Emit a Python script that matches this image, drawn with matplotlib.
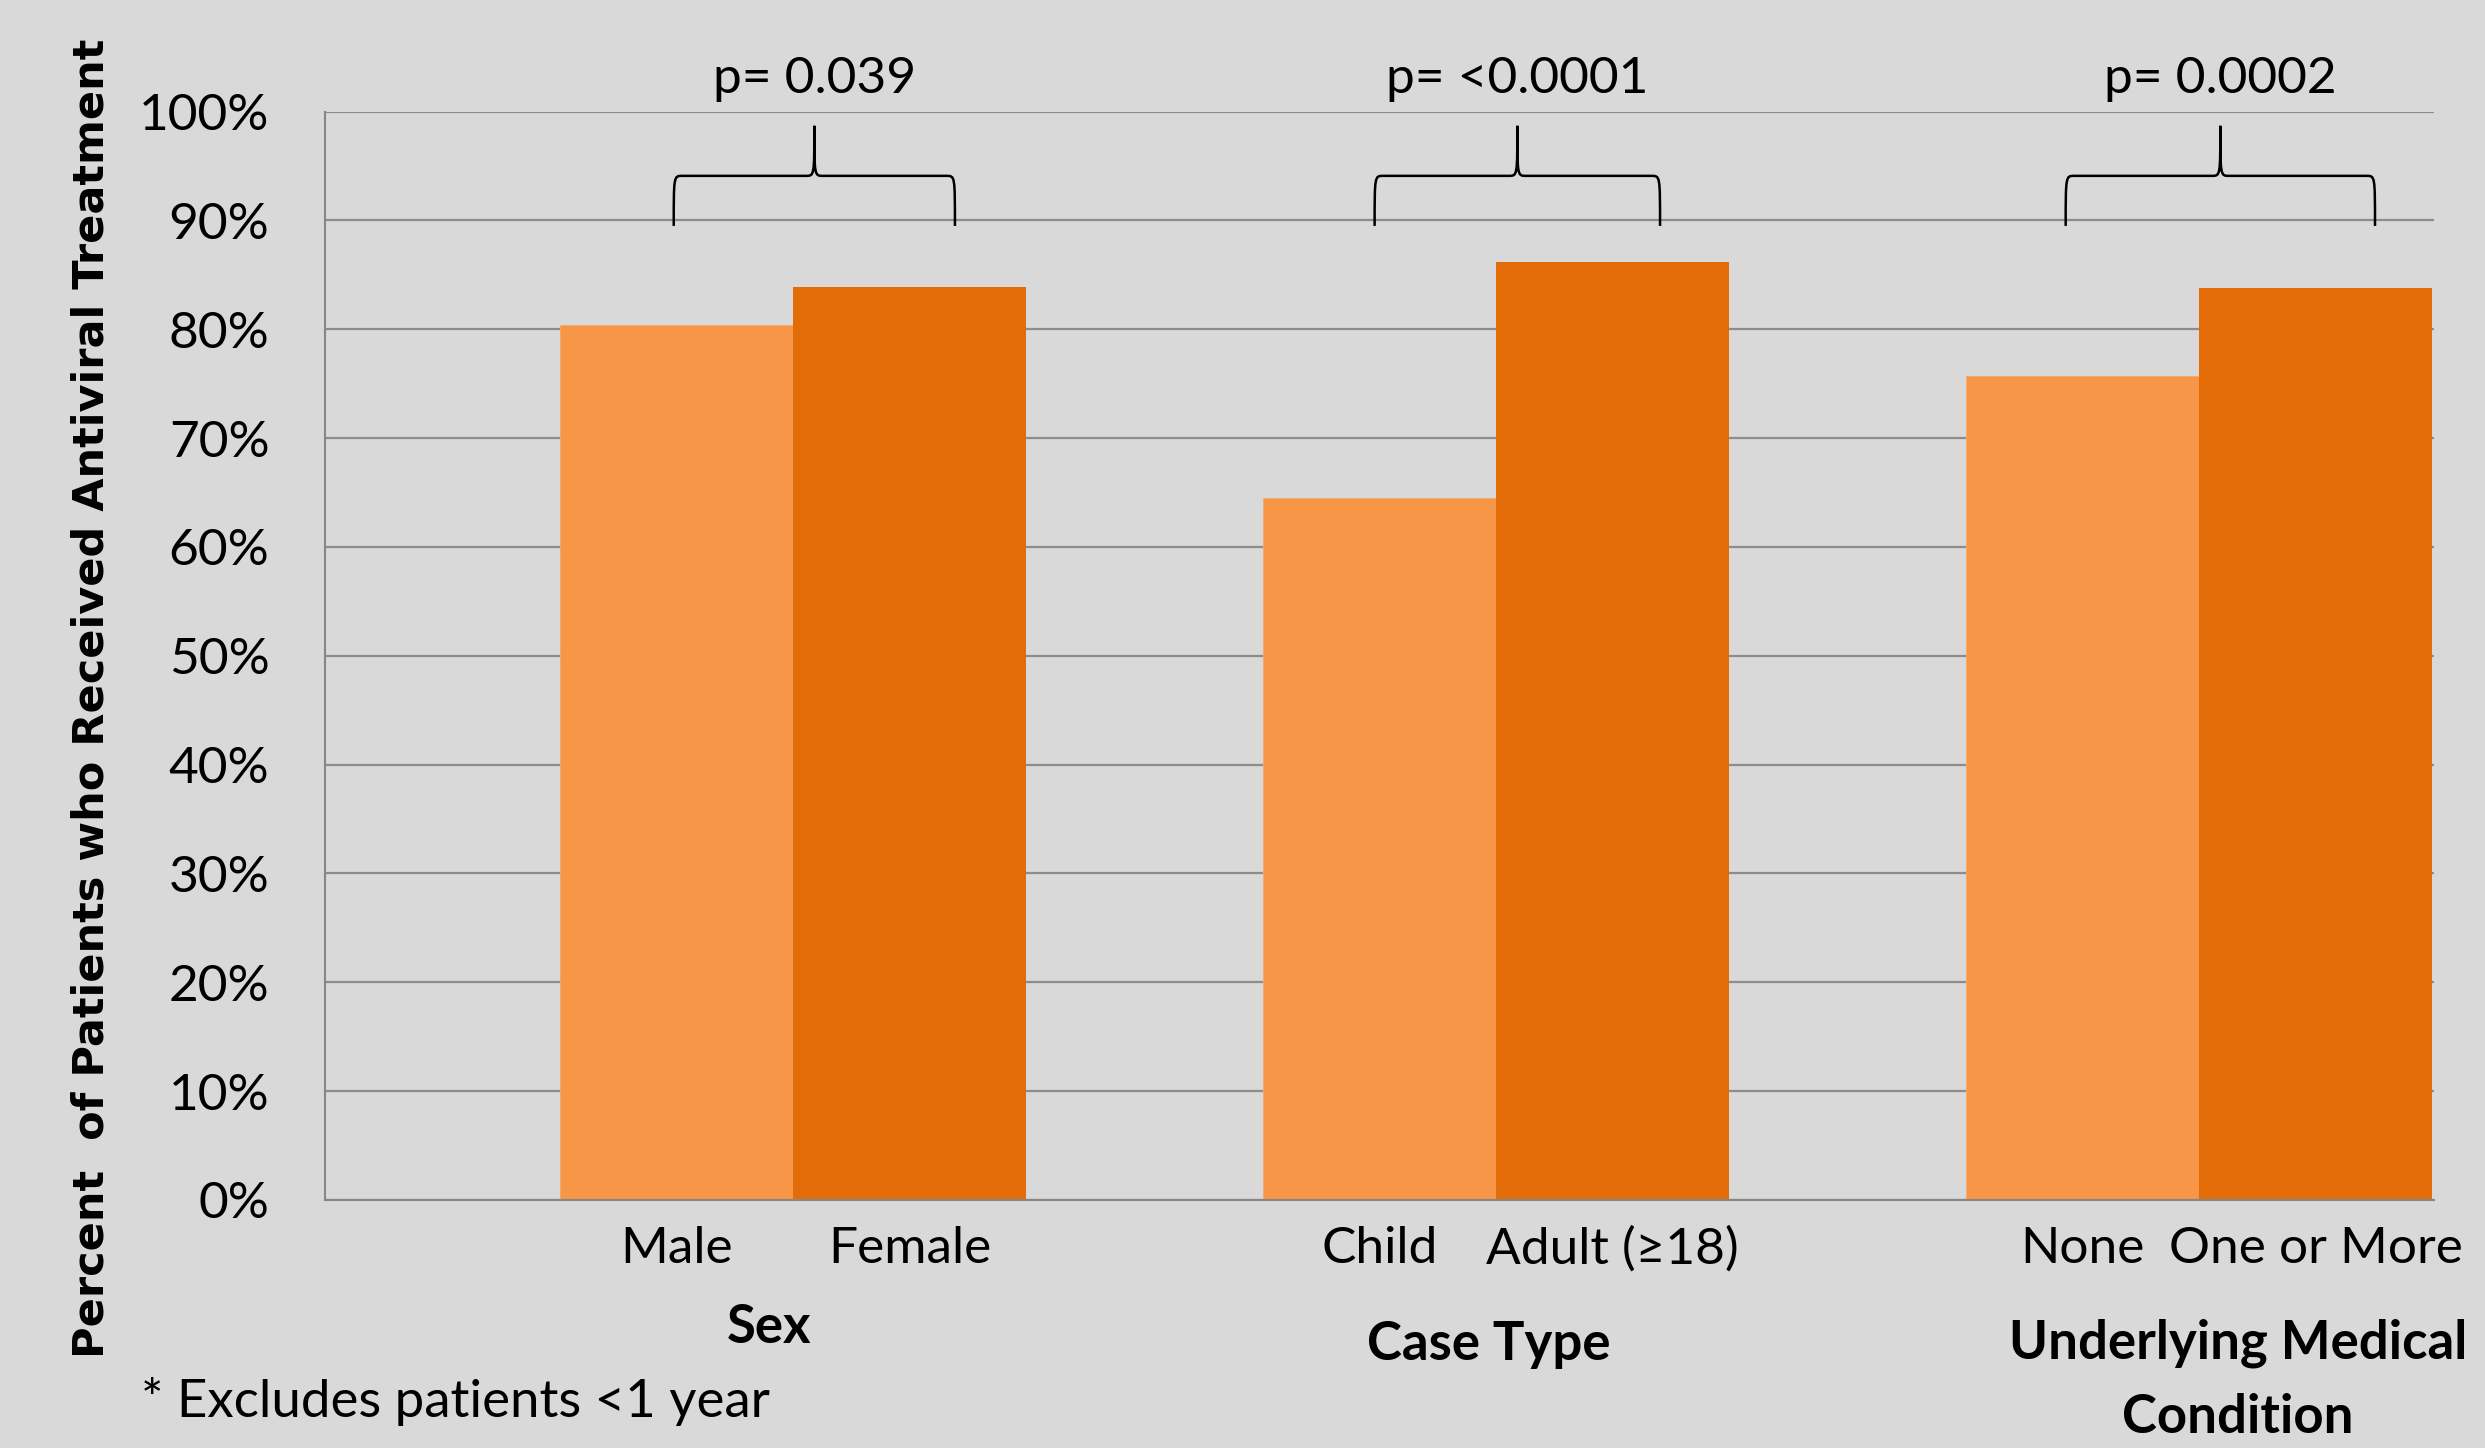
"""
항바이러스 치료를 받은 환자 비율 막대 그래프
"""

import matplotlib.pyplot as plt
from matplotlib.path import Path
from matplotlib.patches import PathPatch
from matplotlib.transforms import blended_transform_factory

# 데이터
groups = ["Sex", "Case Type", "Underlying Medical\nCondition"]
first_labels = ["Male", "Child", "None"]
second_labels = ["Female", "Adult (≥18)", "One or More"]
first_values = [80.4, 64.5, 75.7]
second_values = [83.9, 86.2, 83.8]
p_texts = ["p= 0.039", "p= <0.0001", "p= 0.0002"]
y_ticks = [0, 10, 20, 30, 40, 50, 60, 70, 80, 90, 100]
footnote = "* Excludes patients <1 year"
y_title = "Percent  of Patients who Received Antiviral Treatment"

# 스타일
BG = "#D9D9D9"
LIGHT = "#F79646"
DARK = "#E36C09"
GRID = "#8C8C8C"
FONT = ["Lato", "DejaVu Sans"]
FS = 37
BAR_W = 0.3314


def draw_brace(ax, xc, half, y_bot, y_mid, y_top, dx=0.012):
    """중괄호 모양 (가운데가 위로 솟음)"""
    xl, xr = xc - half, xc + half
    verts = [
        (xl, y_bot), (xl, y_mid), (xl, y_mid), (xl + dx, y_mid),
        (xc - dx, y_mid),
        (xc, y_mid), (xc, y_mid), (xc, y_top),
        (xc, y_mid), (xc, y_mid), (xc + dx, y_mid),
        (xr - dx, y_mid),
        (xr, y_mid), (xr, y_mid), (xr, y_bot),
    ]
    codes = [
        Path.MOVETO, Path.CURVE4, Path.CURVE4, Path.CURVE4,
        Path.LINETO,
        Path.CURVE4, Path.CURVE4, Path.CURVE4,
        Path.CURVE4, Path.CURVE4, Path.CURVE4,
        Path.LINETO,
        Path.CURVE4, Path.CURVE4, Path.CURVE4,
    ]
    patch = PathPatch(Path(verts, codes), facecolor="none", edgecolor="black",
                      linewidth=1.8, clip_on=False, zorder=5)
    ax.add_patch(patch)


fig = plt.figure(figsize=(24.85, 14.48), dpi=100, facecolor=BG)
ax = fig.add_axes([0.1308, 0.1713, 0.8487, 0.7516])
ax.set_facecolor(BG)

idx = list(range(len(groups)))
x1 = [i - BAR_W / 2 for i in idx]
x2 = [i + BAR_W / 2 for i in idx]
ax.bar(x1, first_values, width=BAR_W, color=LIGHT, edgecolor="#F5A86A", linewidth=0.6)
ax.bar(x2, second_values, width=BAR_W, color=DARK, linewidth=0)

ax.set_xlim(-0.666, 2.334)
ax.set_ylim(0, 100)
ax.set_yticks(y_ticks)
ax.set_yticklabels([f"{t}%" for t in y_ticks], fontfamily=FONT, fontsize=FS)
ax.yaxis.grid(True, color=GRID, linewidth=1.6)
ax.set_axisbelow(True)
ax.tick_params(axis="y", length=0, pad=40)

ax.set_xticks(x1 + x2)
ax.set_xticklabels(first_labels + second_labels, fontfamily=FONT, fontsize=FS)
ax.tick_params(axis="x", length=0, pad=19)

for side in ["top", "right"]:
    ax.spines[side].set_visible(False)
for side in ["left", "bottom"]:
    ax.spines[side].set_color("#868686")
    ax.spines[side].set_linewidth(1.5)

# p 값과 괄호
brace_half = [0.20, 0.203, 0.22]
for i in idx:
    xc = i + 0.03
    draw_brace(ax, xc, brace_half[i], 89.5, 94.1, 98.7)
    ax.text(xc, 101.7, p_texts[i], ha="center", va="baseline",
            fontfamily=FONT, fontsize=FS, clip_on=False)

# 그룹 이름
trans = blended_transform_factory(ax.transData, fig.transFigure)
group_dx = [-0.034, -0.011, 0.055]
group_base = [1343, 1360, 1433]
for i in idx:
    ax.text(i + group_dx[i], 1 - group_base[i] / 1448, groups[i], transform=trans,
            ha="center", va="baseline", multialignment="center",
            fontfamily=FONT, fontsize=FS + 1, fontweight="bold", linespacing=1.62)

fig.text(92 / 2485, 1 - 698 / 1448, y_title, rotation=90, ha="center", va="center",
         fontfamily="DejaVu Sans", fontsize=31, fontweight="bold")
fig.text(141 / 2485, 1 - 1417 / 1448, footnote, ha="left", va="baseline",
         fontfamily=FONT, fontsize=FS + 1)

fig.savefig("out.png", dpi=100, facecolor=BG)
